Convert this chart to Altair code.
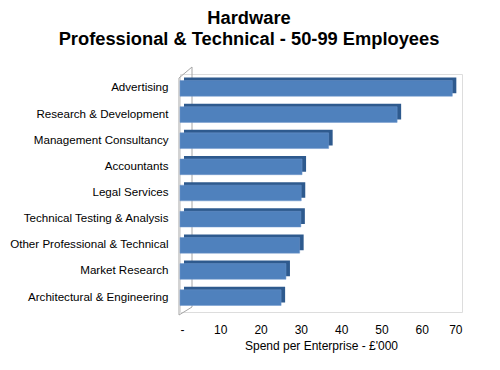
import altair as alt
import pandas as pd

categories = [
    "Advertising",
    "Research & Development",
    "Management Consultancy",
    "Accountants",
    "Legal Services",
    "Technical Testing & Analysis",
    "Other Professional & Technical",
    "Market Research",
    "Architectural & Engineering",
]
values = [67.6, 53.9, 36.9, 30.3, 30.1, 30.0, 29.7, 26.3, 25.1]
x_ticks = [0, 10, 20, 30, 40, 50, 60, 70]

df = pd.DataFrame({"category": categories, "value": values})
one = pd.DataFrame({"a": [0]})

FONT = "Liberation Sans"

x_enc = alt.X(
    "value:Q",
    scale=alt.Scale(domain=[0, 70], nice=False),
    axis=alt.Axis(
        values=x_ticks,
        title="Spend per Enterprise  - £'000",
        grid=False,
        domain=False,
        ticks=False,
        labelExpr="datum.value == 0 ? '-' : datum.label",
        labelPadding=12,
        titlePadding=5,
        labelFont=FONT,
        titleFont=FONT,
        labelFontSize=12,
        titleFontSize=12,
        titleFontWeight="normal",
        labelColor="#000000",
        titleColor="#000000",
    ),
)
y_enc = alt.Y(
    "category:N",
    sort=categories,
    scale=alt.Scale(paddingInner=0.4, paddingOuter=0.25),
    axis=alt.Axis(
        title=None,
        domain=False,
        ticks=False,
        labelPadding=12,
        labelFont=FONT,
        labelFontSize=11.6,
        labelColor="#000000",
        labelLimit=300,
    ),
)

wall_color = "#a6a6a6"
wall_back = alt.Chart(one).mark_rule(color=wall_color, strokeWidth=1).encode(
    x=alt.value(12), y=alt.value(-7), y2=alt.value(233)
)
wall_front = alt.Chart(one).mark_rule(color=wall_color, strokeWidth=1).encode(
    x=alt.value(-1), y=alt.value(4), y2=alt.value(241)
)
wall_top = alt.Chart(one).mark_rule(color=wall_color, strokeWidth=1).encode(
    x=alt.value(-1), x2=alt.value(12), y=alt.value(4), y2=alt.value(-7)
)
wall_bot = alt.Chart(one).mark_rule(color=wall_color, strokeWidth=1).encode(
    x=alt.value(-1), x2=alt.value(12), y=alt.value(241), y2=alt.value(233)
)

shadow = alt.Chart(df).mark_bar(color="#2e5a8e", xOffset=4, yOffset=-3).encode(
    x=x_enc, y=y_enc
)
front = alt.Chart(df).mark_bar(color="#4f81bd", stroke="#6f97cc", strokeWidth=0.5).encode(
    x=x_enc, y=y_enc
)

chart = (
    alt.layer(wall_back, wall_front, wall_top, wall_bot, shadow, front)
    .properties(
        width=282,
        height=238,
        autosize=alt.AutoSizeParams(type="none"),
        padding={"left": 172, "top": 66, "right": 30, "bottom": 50},
        title=alt.TitleParams(
            text=["Hardware", "Professional & Technical - 50-99 Employees"],
            font=FONT,
            fontSize=18.3,
            fontWeight="bold",
            color="#000000",
            anchor="middle",
            frame="group",
            dx=-72,
            offset=17,
            lineHeight=21,
        ),
    )
    .configure_view(stroke=None)
    .configure(background="white")
)

chart.save("out.html", embed_options={"renderer": "svg", "actions": False})
